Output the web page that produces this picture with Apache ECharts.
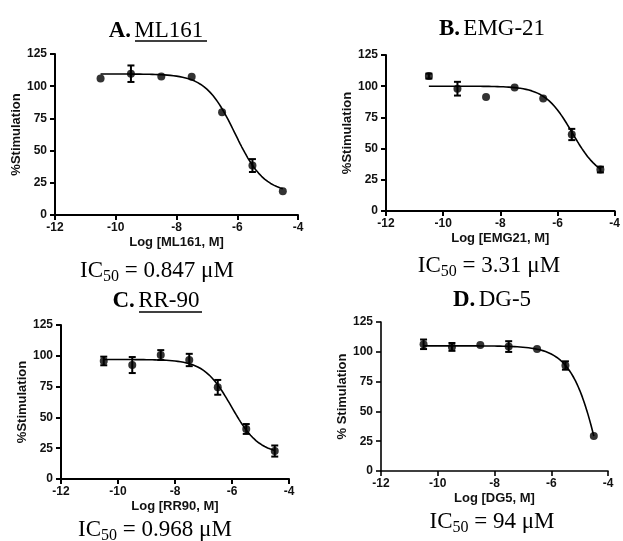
<!DOCTYPE html>
<html>
<head>
<meta charset="utf-8">
<script src="https://cdn.jsdelivr.net/npm/echarts@6/dist/echarts.min.js"></script>
<style>
  html, body { margin: 0; padding: 0; background: #fff; }
  #chart { width: 623px; height: 541px; }
</style>
</head>
<body>
<div id="chart"></div>
<script>
// Log concentrations tested (M)
const logConc = [-10.5, -9.5, -8.5, -7.5, -6.5, -5.5, -4.5];

// Mean % stimulation and SEM for each compound
const mlMean  = [106, 109.7, 107.6, 107.4, 79.8, 38.4, 18.4];
const mlErr   = [0, 6.4, 0, 0, 0, 5, 0];
const emgMean = [108.1, 98, 91.3, 99, 90.2, 61.3, 33.2];
const emgErr  = [2, 5.5, 0, 0, 0, 4.5, 2.3];
const rrMean  = [95.8, 92.5, 100.6, 96.6, 74.4, 40.6, 22.7];
const rrErr   = [3.5, 6.5, 4, 5, 6, 4, 4.5];
const dgMean  = [106.3, 104.1, 105.7, 104.4, 102.4, 88.5, 29.3];
const dgErr   = [4, 3.3, 0, 4.5, 0, 3.5, 0];

// IC50 values (µM) and the remaining four-parameter logistic fit terms
const ic50     = [0.847, 3.31, 0.968, 94];
const fitTop   = [109.5, 100, 97, 105];
const fitBot   = [17, 25, 20, -150];
const fitHill  = [0.9, 0.9, 0.9, 0.79];

// Panel labels
const panelLetters = ['A.', 'B.', 'C.', 'D.'];
const compoundNames = ['ML161', 'EMG-21', 'RR-90', 'DG-5'];
const ic50Text = ['0.847', '3.31', '0.968', '94'];
const xNames = ['Log [ML161, M]', 'Log [EMG21, M]', 'Log [RR90, M]', 'Log [DG5, M]'];
const yNames = ['%Stimulation', '%Stimulation', '%Stimulation', '% Stimulation'];

// Tick settings
const xMin = -12, xMax = -4, xStep = 2;
const yMin = 0, yMax = 125, yStep = 25;

const means = [mlMean, emgMean, rrMean, dgMean];
const errs = [mlErr, emgErr, rrErr, dgErr];

function logistic(i, x) {
  const c = Math.log10(ic50[i] * 1e-6);
  return fitBot[i] + (fitTop[i] - fitBot[i]) / (1 + Math.pow(10, (x - c) * fitHill[i]));
}

function curve(i) {
  const pts = [];
  for (let k = 0; k <= 120; k++) {
    const x = logConc[0] + (logConc[logConc.length - 1] - logConc[0]) * k / 120;
    pts.push([x, logistic(i, x)]);
  }
  return pts;
}

// Plot area of each panel (pixels)
const grids = [
  { left: 55,  top: 54,  width: 243, height: 161 },
  { left: 386, top: 55,  width: 234, height: 156 },
  { left: 61,  top: 325, width: 228, height: 154 },
  { left: 381, top: 322, width: 227, height: 149 }
];
const axisW = [2, 2, 2, 1.6];

const tickFont = { fontFamily: 'Liberation Sans', fontWeight: 'bold', fontSize: 12, color: '#111' };
const nameFont = { fontFamily: 'Liberation Sans', fontWeight: 'bold', fontSize: 13, color: '#111' };

const xAxes = [], yAxes = [], series = [];
grids.forEach((g, i) => {
  xAxes.push({
    type: 'value', gridIndex: i, min: xMin, max: xMax, interval: xStep,
    name: xNames[i], nameLocation: 'middle', nameGap: 21, nameTextStyle: nameFont,
    axisLine: { show: true, onZero: false, lineStyle: { color: '#000', width: axisW[i] } },
    axisTick: { show: true, inside: false, length: 5, lineStyle: { color: '#000', width: axisW[i] } },
    axisLabel: Object.assign({ margin: 7 }, tickFont),
    splitLine: { show: false }
  });
  yAxes.push({
    type: 'value', gridIndex: i, min: yMin, max: yMax, interval: yStep,
    name: yNames[i], nameLocation: 'middle', nameGap: 29, nameTextStyle: nameFont,
    axisLine: { show: true, onZero: false, lineStyle: { color: '#000', width: axisW[i] } },
    axisTick: { show: true, inside: false, length: 5, lineStyle: { color: '#000', width: axisW[i] } },
    axisLabel: Object.assign({ margin: 8 }, tickFont),
    splitLine: { show: false }
  });

  // fitted dose-response curve
  series.push({
    type: 'line', xAxisIndex: i, yAxisIndex: i, data: curve(i),
    showSymbol: false, smooth: false, silent: true,
    lineStyle: { color: '#000', width: 1.6 }, z: 2
  });
  // SEM error bars
  series.push({
    type: 'custom', xAxisIndex: i, yAxisIndex: i,
    data: logConc.map((x, k) => [x, means[i][k] - errs[i][k], means[i][k] + errs[i][k]])
      .filter((d, k) => errs[i][k] > 0),
    encode: { x: 0, y: [1, 2] },
    renderItem: function (params, api) {
      const top = api.coord([api.value(0), api.value(2)]);
      const bot = api.coord([api.value(0), api.value(1)]);
      const w = 3.5;
      const st = { stroke: '#000', lineWidth: 2 };
      return {
        type: 'group',
        children: [
          { type: 'line', shape: { x1: top[0], y1: top[1], x2: bot[0], y2: bot[1] }, style: st },
          { type: 'line', shape: { x1: top[0] - w, y1: top[1], x2: top[0] + w, y2: top[1] }, style: st },
          { type: 'line', shape: { x1: bot[0] - w, y1: bot[1], x2: bot[0] + w, y2: bot[1] }, style: st }
        ]
      };
    },
    z: 3
  });
  // mean data points
  series.push({
    type: 'scatter', xAxisIndex: i, yAxisIndex: i,
    data: logConc.map((x, k) => [x, means[i][k]]),
    symbol: 'circle', symbolSize: 8,
    itemStyle: { color: '#000' }, z: 4
  });
});

// Panel headings and IC50 captions
const headPos = [[156, 31], [492, 29], [156, 301], [492, 300]];
const icPos = [[157, 271], [489, 266], [155, 530], [492, 522]];
const serif = 'Liberation Serif';
const graphics = [];
panelLetters.forEach((L, i) => {
  graphics.push({
    type: 'text', x: headPos[i][0], y: headPos[i][1],
    style: {
      text: '{b|' + L + '} {r|' + compoundNames[i] + '}',
      align: 'center', verticalAlign: 'middle',
      rich: {
        b: { fontFamily: serif, fontWeight: 'bold', fontSize: 23, fill: '#000' },
        r: { fontFamily: serif, fontSize: 23, fill: '#000' }
      }
    }
  });
  graphics.push({
    type: 'text', x: icPos[i][0], y: icPos[i][1],
    style: {
      text: '{n|IC}{s|50}{n| = ' + ic50Text[i] + ' μM}',
      align: 'center', verticalAlign: 'middle',
      rich: {
        n: { fontFamily: serif, fontSize: 23, lineHeight: 28, fill: '#000' },
        s: { fontFamily: serif, fontSize: 16, lineHeight: 16, verticalAlign: 'bottom', fill: '#000' }
      }
    }
  });
});
// underlined compound names in panels A and C
graphics.push({ type: 'line', shape: { x1: 135, y1: 41, x2: 207, y2: 41 }, style: { stroke: '#000', lineWidth: 1.5 } });
graphics.push({ type: 'line', shape: { x1: 139, y1: 312, x2: 202, y2: 312 }, style: { stroke: '#000', lineWidth: 1.5 } });

const chart = echarts.init(document.getElementById('chart'), null, { renderer: 'canvas' });
chart.setOption({
  animation: false,
  backgroundColor: '#fff',
  grid: grids,
  xAxis: xAxes,
  yAxis: yAxes,
  series: series,
  graphic: graphics
});
</script>
</body>
</html>
